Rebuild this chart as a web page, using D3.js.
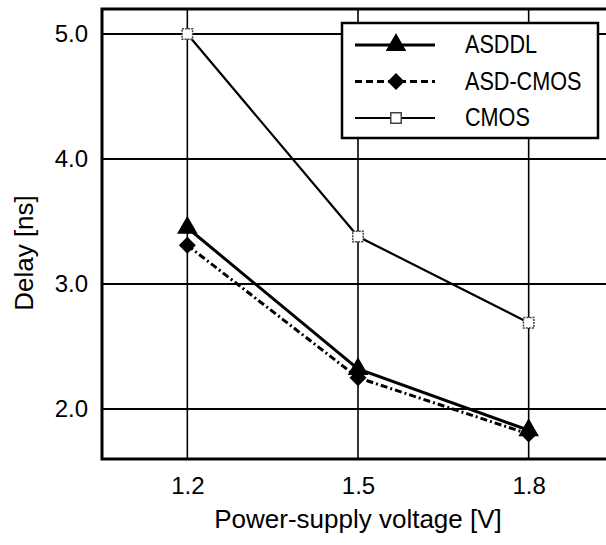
<!DOCTYPE html>
<html>
<head>
<meta charset="utf-8">
<script src="https://cdn.jsdelivr.net/npm/d3@7"></script>
<style>
  body { margin: 0; background: #fff; }
  text { font-family: "Liberation Sans", Arial, sans-serif; fill: #000; }
</style>
</head>
<body>
<div id="chart"></div>
<script>
// values
var voltages = [1.2, 1.5, 1.8];
var asddl = [3.45, 2.32, 1.83];
var asdCmos = [3.31, 2.25, 1.80];
var cmos = [5.0, 3.38, 2.69];
var yTicks = [2.0, 3.0, 4.0, 5.0];
var seriesNames = ["ASDDL", "ASD-CMOS", "CMOS"];

function draw_Delay() {
    "use strict";
    var width = 606, height = 545;
    var svg = d3.select("#chart")
        .append("svg")
        .attr("width", width)
        .attr("height", height);

    var left = 102, right = 614, top = 9, bottom = 459;

    var x = d3.scaleLinear().domain([1.05, 1.95]).range([left, right]);
    var y = d3.scaleLinear().domain([1.6, 5.2]).range([bottom, top]);

    // square turned on its corner
    var diamond = d3.symbolDiamond2 || {
        draw: function (context, size) {
            var r = Math.sqrt(size / 2);
            context.moveTo(0, -r);
            context.lineTo(r, 0);
            context.lineTo(0, r);
            context.lineTo(-r, 0);
            context.closePath();
        }
    };

    // grid
    svg.append("g")
        .selectAll("line")
        .data(yTicks)
        .enter()
        .append("line")
        .attr("x1", left).attr("x2", right)
        .attr("y1", function (d) { return y(d); })
        .attr("y2", function (d) { return y(d); })
        .style("stroke", "#000")
        .style("stroke-width", 2);

    svg.append("g")
        .selectAll("line")
        .data(voltages)
        .enter()
        .append("line")
        .attr("y1", top).attr("y2", bottom)
        .attr("x1", function (d) { return x(d); })
        .attr("x2", function (d) { return x(d); })
        .style("stroke", "#000")
        .style("stroke-width", 1.6);

    // frame
    svg.append("rect")
        .attr("x", left).attr("y", top)
        .attr("width", right - left).attr("height", bottom - top)
        .style("fill", "none")
        .style("stroke", "#000")
        .style("stroke-width", 3);

    // axes (labels only)
    var xAxis = svg.append("g")
        .attr("transform", "translate(0," + bottom + ")")
        .call(d3.axisBottom(x).tickValues(voltages).tickSize(0).tickPadding(18)
            .tickFormat(d3.format(".1f")));
    var yAxis = svg.append("g")
        .attr("transform", "translate(" + left + ",0)")
        .call(d3.axisLeft(y).tickValues(yTicks).tickSize(0).tickPadding(14)
            .tickFormat(d3.format(".1f")));
    [xAxis, yAxis].forEach(function (a) {
        a.select(".domain").remove();
        a.selectAll("text")
            .style("font-family", "'Liberation Sans', Arial, sans-serif")
            .style("font-size", "24px")
            .attr("fill", "#000");
    });
    xAxis.selectAll("text").attr("dy", "0.71em").attr("y", 18);

    svg.append("text")
        .attr("x", (left + right) / 2)
        .attr("y", 528)
        .attr("text-anchor", "middle")
        .style("font-size", "26px")
        .text("Power-supply voltage [V]");

    svg.append("text")
        .attr("transform", "translate(33,253) rotate(-90)")
        .attr("text-anchor", "middle")
        .style("font-size", "26px")
        .text("Delay [ns]");

    var line = d3.line()
        .x(function (d) { return x(d[0]); })
        .y(function (d) { return y(d[1]); });

    function pts(vals) {
        return voltages.map(function (v, i) { return [v, vals[i]]; });
    }

    var styles = [
        { data: asddl, width: 3, dash: null, shape: d3.symbolTriangle, size: 140, fill: "#000", stroke: "#000" },
        { data: asdCmos, width: 3, dash: "7,3,2,3", shape: diamond, size: 140, fill: "#000", stroke: "#000" },
        { data: cmos, width: 2.2, dash: null, shape: d3.symbolSquare, size: 110, fill: "#fff", stroke: "#444" }
    ];

    // draw CMOS first, then the others
    [2, 1, 0].forEach(function (k) {
        var s = styles[k];
        svg.append("path")
            .datum(pts(s.data))
            .attr("d", line)
            .style("fill", "none")
            .style("stroke", "#000")
            .style("stroke-width", s.width)
            .style("stroke-dasharray", s.dash);
        svg.append("g")
            .selectAll("path")
            .data(pts(s.data))
            .enter()
            .append("path")
            .attr("transform", function (d) { return "translate(" + x(d[0]) + "," + y(d[1]) + ")"; })
            .attr("d", d3.symbol().type(s.shape).size(s.size))
            .style("fill", s.fill)
            .style("stroke", s.stroke)
            .style("stroke-width", 1.5)
            .style("stroke-dasharray", k === 2 ? "2,1" : null);
    });

    // legend
    var legend = svg.append("g");
    legend.append("rect")
        .attr("x", 342).attr("y", 23)
        .attr("width", 256).attr("height", 115)
        .style("fill", "#fff")
        .style("stroke", "#000")
        .style("stroke-width", 2.5);

    var rows = legend.selectAll("g.row")
        .data(seriesNames)
        .enter()
        .append("g")
        .attr("class", "row")
        .attr("transform", function (d, i) { return "translate(0," + (45 + i * 36.5) + ")"; });

    rows.append("line")
        .attr("x1", 355).attr("x2", 435)
        .attr("y1", 0).attr("y2", 0)
        .style("stroke", "#000")
        .style("stroke-width", function (d, i) { return styles[i].width; })
        .style("stroke-dasharray", function (d, i) { return i === 1 ? "7,4" : styles[i].dash; });

    rows.append("path")
        .attr("transform", "translate(396,0)")
        .attr("d", function (d, i) { return d3.symbol().type(styles[i].shape).size(styles[i].size)(); })
        .style("fill", function (d, i) { return styles[i].fill; })
        .style("stroke", function (d, i) { return styles[i].stroke; })
        .style("stroke-width", 1.5);

    rows.append("text")
        .attr("transform", "translate(465,8) scale(0.94,1.1)")
        .style("font-size", "23px")
        .text(function (d) { return d; });
}

draw_Delay();
</script>
</body>
</html>
